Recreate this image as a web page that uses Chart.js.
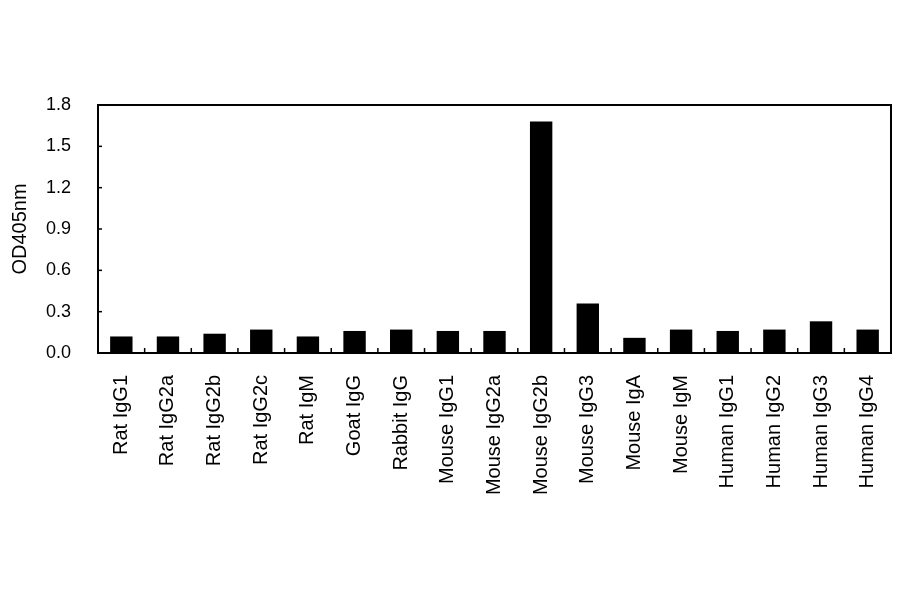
<!DOCTYPE html>
<html>
<head>
<meta charset="utf-8">
<script src="https://cdn.jsdelivr.net/npm/chart.js@4"></script>
<style>
  html, body { margin: 0; padding: 0; background: #fff; }
  #wrap { width: 900px; height: 594px; }
</style>
</head>
<body>
<div id="wrap"><canvas id="myChart" width="900" height="594"></canvas></div>
<script>
const ctx = document.getElementById('myChart').getContext('2d');

// categories and values
const muestras = ["Rat IgG1", "Rat IgG2a", "Rat IgG2b", "Rat IgG2c", "Rat IgM", "Goat IgG", "Rabbit IgG",
  "Mouse IgG1", "Mouse IgG2a", "Mouse IgG2b", "Mouse IgG3", "Mouse IgA", "Mouse IgM",
  "Human IgG1", "Human IgG2", "Human IgG3", "Human IgG4"];
const valores = [0.12, 0.12, 0.14, 0.17, 0.12, 0.16, 0.17,
  0.16, 0.16, 1.68, 0.36, 0.11, 0.17,
  0.16, 0.17, 0.23, 0.17];
const yTicks = [0.0, 0.3, 0.6, 0.9, 1.2, 1.5, 1.8];

const fuente = "'Liberation Sans', Arial, sans-serif";

// frame around the plot and short inward tick marks
const marco = {
  id: 'marco',
  afterDraw(chart) {
    const { ctx, chartArea: a, scales } = chart;
    ctx.save();
    ctx.strokeStyle = '#000';
    ctx.lineWidth = 1.5;
    yTicks.forEach(v => {
      const y = scales.y.getPixelForValue(v);
      ctx.beginPath();
      ctx.moveTo(a.left, y);
      ctx.lineTo(a.left + 4, y);
      ctx.stroke();
    });
    const paso = (a.right - a.left) / muestras.length;
    for (let i = 1; i < muestras.length; i++) {
      const x = scales.x.getPixelForValue(i) - paso / 2;
      ctx.beginPath();
      ctx.moveTo(x, a.bottom);
      ctx.lineTo(x, a.bottom - 5);
      ctx.stroke();
    }
    ctx.lineWidth = 2;
    ctx.strokeRect(a.left, a.top, a.right - a.left, a.bottom - a.top);
    ctx.restore();
  }
};

new Chart(ctx, {
  type: 'bar',
  data: {
    labels: muestras,
    datasets: [{
      data: valores,
      backgroundColor: '#000',
      borderWidth: 0,
      barPercentage: 0.48,
      categoryPercentage: 1
    }]
  },
  options: {
    responsive: false,
    animation: false,
    layout: { padding: { top: 105, right: 9, left: 0, bottom: 0 } },
    plugins: { legend: { display: false }, tooltip: { enabled: false } },
    scales: {
      x: {
        offset: true,
        grid: { display: false },
        border: { display: false },
        ticks: {
          color: '#000',
          font: { family: fuente, size: 20 },
          minRotation: 90,
          maxRotation: 90,
          padding: 14,
          autoSkip: false
        },
        afterFit(scale) {
          scale.height = 594 - 353;
          scale.paddingLeft = 0;
          scale.paddingRight = 0;
        }
      },
      y: {
        min: 0,
        max: 1.8,
        grid: { display: false },
        border: { display: false },
        ticks: {
          stepSize: 0.3,
          color: '#000',
          font: { family: fuente, size: 18 },
          padding: 19,
          callback: v => Number(v).toFixed(1)
        },
        title: {
          display: true,
          text: 'OD405nm',
          color: '#000',
          font: { family: fuente, size: 20 },
          padding: { top: 8, bottom: 4 }
        },
        afterFit(scale) { scale.width = 98; }
      }
    }
  },
  plugins: [marco]
});
</script>
</body>
</html>
